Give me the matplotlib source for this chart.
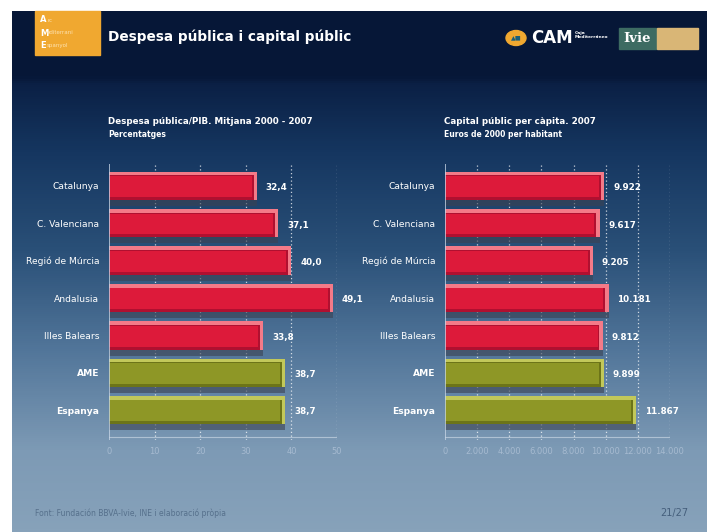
import numpy as np
import matplotlib
matplotlib.use("Agg")
import matplotlib.pyplot as plt
from matplotlib.colors import LinearSegmentedColormap
from matplotlib.patches import Rectangle, Circle

categories = ["Catalunya", "C. Valenciana", "Regió de Múrcia", "Andalusia",
              "Illes Balears", "AME", "Espanya"]
despesa = [32.4, 37.1, 40.0, 49.1, 33.8, 38.7, 38.7]
despesa_labels = ["32,4", "37,1", "40,0", "49,1", "33,8", "38,7", "38,7"]
capital = [9922, 9617, 9205, 10181, 9812, 9899, 11867]
capital_labels = ["9.922", "9.617", "9.205", "10.181", "9.812", "9.899", "11.867"]
left_ticks = [0, 10, 20, 30, 40, 50]
right_ticks = [0, 2000, 4000, 6000, 8000, 10000, 12000, 14000]
right_tick_labels = ["0", "2.000", "4.000", "6.000", "8.000", "10.000", "12.000", "14.000"]
is_total = [False, False, False, False, False, True, True]

W, H = 710, 532
fig = plt.figure(figsize=(W / 100, H / 100), dpi=100)
fig.patch.set_facecolor("white")

# background slide gradient
bg = fig.add_axes([12 / W, 0, 695 / W, 521 / H])
bg.set_axis_off()
stops = [(0.0, "#061737"), (64 / 521, "#061737"), (72 / 521, "#0b2045"),
         (140 / 521, "#153660"), (240 / 521, "#2a5078"), (340 / 521, "#52769a"),
         (440 / 521, "#7d9ab5"), (1.0, "#87a2ba")]
cmap = LinearSegmentedColormap.from_list("bgc", stops)
grad = np.linspace(0, 1, 521).reshape(-1, 1)
bg.imshow(grad, aspect="auto", cmap=cmap, extent=[0, 1, 0, 1], origin="upper")
bg.set_xlim(0, 1)
bg.set_ylim(0, 1)

narrow = ["Liberation Sans Narrow", "DejaVu Sans"]


def fx(x):
    return x / W


def fy(y):
    return 1 - y / H


# header
fig.patches.append(Rectangle((fx(35), fy(55)), (100 - 35) / W, (55 - 11) / H,
                             transform=fig.transFigure, color="#f0a830", zorder=1))
for i, (big, small) in enumerate([("A", "rc"), ("M", "editerrani"), ("E", "spanyol")]):
    fig.text(fx(40), fy(20 + i * 13), big, color="white", fontsize=6, fontweight="bold",
             va="center", ha="left")
    fig.text(fx(47), fy(20 + i * 13), small, color="#fde2b0", fontsize=4,
             va="center", ha="left")
fig.text(fx(108), fy(37), "Despesa pública i capital públic", color="white",
         fontsize=9.8, fontweight="bold", va="center", ha="left")

fig.patches.append(Circle((fx(516), fy(38)), 10 / W, transform=fig.transFigure,
                          color="#f0a830", zorder=2))
fig.text(fx(516), fy(38), "▲■", color="#1a5f7a", fontsize=4.5, ha="center",
         va="center", zorder=3)
fig.text(fx(531), fy(38), "CAM", color="white", fontsize=12, fontweight="bold",
         va="center", ha="left", family=narrow)
fig.text(fx(575), fy(35), "Caja\nMediterráneo", color="white", fontsize=3.2,
         fontweight="bold", va="center", ha="left", linespacing=0.9)
fig.patches.append(Rectangle((fx(619), fy(49)), 37 / W, 21 / H,
                             transform=fig.transFigure, color="#3d6b62", zorder=2))
fig.text(fx(637), fy(38.5), "Ivie", color="white", fontsize=9.5, fontweight="bold",
         family="DejaVu Serif", ha="center", va="center", zorder=3)
fig.patches.append(Rectangle((fx(657), fy(49)), 41 / W, 21 / H,
                             transform=fig.transFigure, color="#d9b676", zorder=2))

# footer
fig.text(fx(35), fy(513), "Font: Fundación BBVA-Ivie, INE i elaboració pròpia",
         color="#56708c", fontsize=5.5, va="center", ha="left", family=narrow)
fig.text(fx(688), fy(513), "21/27", color="#455f7c", fontsize=7, va="center",
         ha="right", family=narrow)

y = np.arange(len(categories))
red_hi, red_main, red_dark = "#f47a88", "#dd1a3a", "#b01030"
ol_hi, ol_main, ol_dark = "#c2c85a", "#8e9726", "#6c7418"


def panel(rect, values, labels, xmax, ticks, ticklabels, inset, offset, title, sub):
    ax = fig.add_axes(rect)
    ax.set_facecolor("none")
    ax.set_xlim(0, xmax)
    ax.set_ylim(6.8, -0.6)
    for s in ax.spines.values():
        s.set_visible(False)
    for t in ticks[1:]:
        ax.axvline(t, color="white", lw=0.9, ls=(0, (1, 2)), alpha=0.75, zorder=1)
    ax.axvline(0, color="#c8d6e6", lw=1.2, alpha=0.9, zorder=6)
    ax.axhline(6.72, color="#dce6f0", lw=0.8, alpha=0.55, zorder=1)
    hi = [ol_hi if t else red_hi for t in is_total]
    main = [ol_main if t else red_main for t in is_total]
    dark = [ol_dark if t else red_dark for t in is_total]
    # shadow under bar
    ax.barh(y + 0.16, values, height=0.76, color="#3b4252", alpha=0.6, zorder=2)
    # highlight (top + right edge)
    ax.barh(y, values, height=0.76, color=hi, zorder=3)
    # darker bottom edge
    ax.barh(y + 0.05, [v - inset for v in values], height=0.66, color=dark, zorder=4)
    # main face
    ax.barh(y + 0.02, [v - 1.6 * inset for v in values], height=0.56, color=main,
            zorder=5)
    for yi, v, lab in zip(y, values, labels):
        ax.text(v + offset, yi + 0.05, lab, color="white", fontsize=6.3,
                fontweight="bold", va="center", ha="left", zorder=7)
    ax.set_xticks(ticks)
    ax.set_xticklabels(ticklabels, color="#a6bad0", fontsize=6, family=narrow)
    ax.tick_params(axis="x", length=0, pad=5)
    ax.set_yticks(y)
    ax.set_yticklabels(categories, color="white", fontsize=6.6, family=narrow)
    for lab, t in zip(ax.get_yticklabels(), is_total):
        if t:
            lab.set_fontweight("bold")
    ax.tick_params(axis="y", length=0, pad=7)
    x0 = rect[0]
    fig.text(x0 - 0.001, fy(122), title, color="white", fontsize=6.3,
             fontweight="bold", ha="left", va="center")
    fig.text(x0 - 0.001, fy(134.5), sub, color="white", fontsize=5.5,
             fontweight="bold", ha="left", va="center")
    return ax


panel([fx(109), fy(440), (337 - 109) / W, (440 - 163.5) / H], despesa,
      despesa_labels, 50, left_ticks, [str(t) for t in left_ticks], 0.7, 2.0,
      "Despesa pública/PIB. Mitjana 2000 - 2007", "Percentatges")
panel([fx(445), fy(440), (670 - 445) / W, (440 - 163.5) / H], capital,
      capital_labels, 14000, right_ticks, right_tick_labels, 200, 550,
      "Capital públic per càpita. 2007", "Euros de 2000 per habitant")

fig.savefig("out.png", dpi=100, facecolor=fig.get_facecolor())
